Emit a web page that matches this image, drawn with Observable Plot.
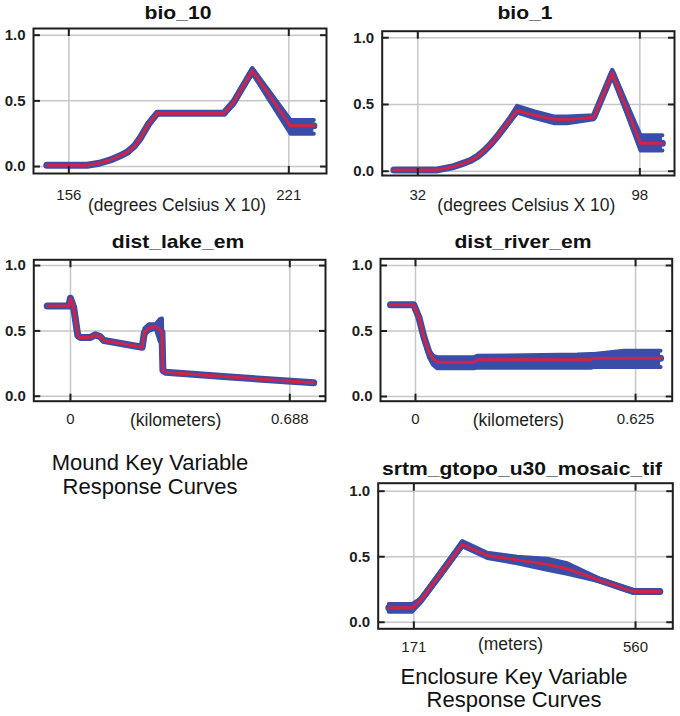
<!DOCTYPE html>
<html><head><meta charset="utf-8">
<script src="https://cdn.jsdelivr.net/npm/d3@7"></script>
<script src="https://cdn.jsdelivr.net/npm/@observablehq/plot@0.6"></script>
<style>
body{margin:0;background:#fff;}
#chart{position:relative;width:680px;height:716px;background:#fff;font-family:"Liberation Sans",Arial,sans-serif;color:#111;overflow:hidden}
.ttl{position:absolute;font-weight:bold;font-size:19px;white-space:nowrap;transform:translate(-50%,-50%) scaleX(1.11);line-height:1}
.cap{position:absolute;font-size:22px;text-align:center;transform:translateX(-50%);white-space:nowrap}
.panel{position:absolute}
</style></head><body><div id="chart"></div>
<script>
// ---- data ----
const titles = ["bio_10", "bio_1", "dist_lake_em", "dist_river_em", "srtm_gtopo_u30_mosaic_tif"];
const axisLabels = ["(degrees Celsius X 10)", "(degrees Celsius X 10)", "(kilometers)", "(kilometers)", "(meters)"];
const captionMound = ["Mound Key Variable", "Response Curves"];
const captionEnclosure = ["Enclosure Key Variable", "Response Curves"];
const yTicks = [0, 0.5, 1.0];

const bio10X    = [149.5, 161.4, 165.0, 168.3, 171.0, 173.3, 175.5, 177.2, 179.6, 182.1, 201.8, 204.7, 210.2, 221.5, 228.4];
const bio10Mean = [0.01, 0.01, 0.025, 0.05, 0.08, 0.11, 0.16, 0.22, 0.325, 0.405, 0.405, 0.49, 0.73, 0.31, 0.31];
const bio10Lo   = [0.01, 0.01, 0.025, 0.05, 0.075, 0.10, 0.15, 0.20, 0.31, 0.40, 0.40, 0.47, 0.71, 0.25, 0.25];
const bio10Hi   = [0.01, 0.01, 0.025, 0.05, 0.085, 0.12, 0.17, 0.24, 0.34, 0.41, 0.41, 0.50, 0.75, 0.355, 0.355];
const bio10Ticks = [156, 221];
const bio10TickLabels = ["156", "221"];

const bio1X    = [24.9, 37.8, 42.7, 45.0, 47.7, 49.7, 51.6, 53.6, 55.6, 58.6, 61.5, 66.5, 72.4, 76.4, 84.3, 89.8, 98.2, 104.7];
const bio1Mean = [0.01, 0.01, 0.035, 0.055, 0.08, 0.11, 0.15, 0.20, 0.26, 0.36, 0.455, 0.42, 0.39, 0.385, 0.405, 0.735, 0.21, 0.21];
const bio1Lo   = [0.01, 0.01, 0.035, 0.055, 0.075, 0.105, 0.145, 0.19, 0.25, 0.345, 0.44, 0.40, 0.36, 0.36, 0.39, 0.72, 0.155, 0.155];
const bio1Hi   = [0.01, 0.01, 0.035, 0.055, 0.085, 0.115, 0.155, 0.21, 0.27, 0.375, 0.49, 0.45, 0.41, 0.41, 0.42, 0.76, 0.27, 0.27];
const bio1Ticks = [32, 98];
const bio1TickLabels = ["32", "98"];

const lakeX    = [-0.073, -0.005, 0.0, 0.010, 0.023, 0.031, 0.063, 0.078, 0.094, 0.105, 0.225, 0.232, 0.246, 0.267, 0.280, 0.287, 0.290, 0.298, 0.512, 0.763];
const lakeMean = [0.69, 0.69, 0.75, 0.68, 0.464, 0.45, 0.45, 0.47, 0.455, 0.426, 0.375, 0.49, 0.523, 0.533, 0.51, 0.49, 0.197, 0.184, 0.145, 0.103];
const lakeLo   = [0.69, 0.69, 0.75, 0.68, 0.46, 0.45, 0.45, 0.47, 0.455, 0.426, 0.37, 0.47, 0.50, 0.52, 0.42, 0.40, 0.197, 0.184, 0.145, 0.103];
const lakeHi   = [0.69, 0.69, 0.75, 0.68, 0.47, 0.45, 0.45, 0.47, 0.455, 0.426, 0.38, 0.52, 0.55, 0.55, 0.59, 0.595, 0.197, 0.184, 0.145, 0.103];
const lakeTicks = [0, 0.688];
const lakeTickLabels = ["0", "0.688"];

const riverX    = [-0.071, -0.005, 0.0095, 0.024, 0.038, 0.050, 0.062, 0.166, 0.175, 0.459, 0.497, 0.507, 0.592, 0.696];
const riverMean = [0.70, 0.70, 0.605, 0.453, 0.338, 0.29, 0.262, 0.262, 0.28, 0.28, 0.28, 0.292, 0.292, 0.292];
const riverLo   = [0.70, 0.70, 0.60, 0.43, 0.30, 0.24, 0.215, 0.215, 0.22, 0.22, 0.22, 0.225, 0.225, 0.225];
const riverHi   = [0.70, 0.70, 0.61, 0.46, 0.35, 0.31, 0.30, 0.30, 0.31, 0.32, 0.325, 0.325, 0.35, 0.35];
const riverTicks = [0, 0.625];
const riverTickLabels = ["0", "0.625"];

const srtmX    = [127.1, 168.2, 182.8, 217.8, 255.9, 299.8, 352.4, 405, 440.2, 498.6, 557, 602.6];
const srtmMean = [0.11, 0.11, 0.166, 0.37, 0.593, 0.51, 0.476, 0.44, 0.408, 0.318, 0.234, 0.234];
const srtmLo   = [0.08, 0.08, 0.15, 0.35, 0.58, 0.49, 0.45, 0.40, 0.37, 0.31, 0.225, 0.225];
const srtmHi   = [0.14, 0.14, 0.18, 0.39, 0.62, 0.53, 0.50, 0.485, 0.45, 0.33, 0.245, 0.245];
const srtmTicks = [171, 560];
const srtmTickLabels = ["171", "560"];

// ---- styling / layout ----
const FONT = '"Liberation Sans", Arial, sans-serif';
const BLUE = "#3a4ea8";
const RED = "#cf2448";
const GRID = "#c6c6c6";
const INK = "#1e1e1e";

const panels = [
  {i:0, x:bio10X, mean:bio10Mean, lo:bio10Lo, hi:bio10Hi, xt:bio10Ticks, xl:bio10TickLabels,
   left:0, top:20, w:340, h:200, ml:33, mr:14, mt:8, mb:47, xd:[145.57, 232.14], yd:[-0.053, 1.051],
   tp:16, ldy:32, ldx:-3, tx:178, ty:12},
  {i:1, x:bio1X, mean:bio1Mean, lo:bio1Lo, hi:bio1Hi, xt:bio1Ticks, xl:bio1TickLabels,
   left:340, top:20, w:340, h:200, ml:41.7, mr:6, mt:10.7, mb:45, xd:[21.42, 108.3], yd:[-0.032, 1.049],
   tp:14, ldy:30, ldx:-2, tx:525, ty:12},
  {i:2, x:lakeX, mean:lakeMean, lo:lakeLo, hi:lakeHi, xt:lakeTicks, xl:lakeTickLabels,
   left:0, top:250, w:340, h:190, ml:33.3, mr:15, mt:9.3, mb:39.3, xd:[-0.115, 0.800], yd:[-0.038, 1.044],
   tp:12, ldy:19, ldx:-4, tx:178, ty:241},
  {i:3, x:riverX, mean:riverMean, lo:riverLo, hi:riverHi, xt:riverTicks, xl:riverTickLabels,
   left:340, top:250, w:340, h:190, ml:40, mr:8.3, mt:8.3, mb:39.3, xd:[-0.0994, 0.729], yd:[-0.036, 1.051],
   tp:12, ldy:19, ldx:-8, tx:523, ty:241},
  {i:4, x:srtmX, mean:srtmMean, lo:srtmLo, hi:srtmHi, xt:srtmTicks, xl:srtmTickLabels,
   left:340, top:475, w:340, h:185, ml:37.7, mr:7.7, mt:7.7, mb:31.7, xd:[108.5, 625.4], yd:[-0.050, 1.061],
   tp:13, ldy:15.5, ldx:-15, tx:521.7, ty:468}
];

const chart = document.getElementById("chart");

for (const c of panels) {
  const data = c.x.map((x, k) => ({x, mean: c.mean[k], lo: c.lo[k], hi: c.hi[k]}));
  const labelOf = new Map(c.xt.map((t, k) => [t, c.xl[k]]));
  const svg = Plot.plot({
    width: c.w, height: c.h,
    marginLeft: c.ml, marginRight: c.mr, marginTop: c.mt, marginBottom: c.mb,
    x: {domain: c.xd, label: null},
    y: {domain: c.yd, label: null},
    style: {fontFamily: FONT, background: "transparent", overflow: "visible", color: INK},
    marks: [
      Plot.gridX(c.xt, {stroke: GRID, strokeOpacity: 1, strokeWidth: 1.5}),
      Plot.gridY(yTicks, {stroke: GRID, strokeOpacity: 1, strokeWidth: 1.5}),
      Plot.areaY(data, {x: "x", y1: "lo", y2: "hi", fill: BLUE}),
      Plot.line(data, {x: "x", y: "lo", stroke: BLUE, strokeWidth: 4}),
      Plot.line(data, {x: "x", y: "hi", stroke: BLUE, strokeWidth: 4}),
      Plot.line(data, {x: "x", y: "mean", stroke: BLUE, strokeWidth: 7}),
      Plot.line(data, {x: "x", y: "mean", stroke: RED, strokeWidth: 3}),
      Plot.frame({stroke: INK, strokeWidth: 2}),
      Plot.axisY(yTicks, {anchor: "left", tickSize: -7, fill: "none", label: null, stroke: INK, strokeWidth: 2}),
      Plot.axisY(yTicks, {anchor: "right", tickSize: -7, fill: "none", label: null, stroke: INK, strokeWidth: 2}),
      Plot.axisX(c.xt, {anchor: "bottom", tickSize: -7, fill: "none", label: null, stroke: INK, strokeWidth: 2}),
      Plot.axisX(c.xt, {anchor: "top", tickSize: -7, fill: "none", label: null, stroke: INK, strokeWidth: 2}),
      Plot.axisY(yTicks, {anchor: "left", tickSize: 0, tickPadding: 8, tickFormat: ".1f", fontSize: 15, fontWeight: "bold", label: null, fill: INK}),
      Plot.axisX(c.xt, {anchor: "bottom", tickSize: 0, tickPadding: c.tp, tickFormat: d => labelOf.get(d), fontSize: 15, label: null, fill: INK}),
      Plot.text([axisLabels[c.i]], {text: d => d, frameAnchor: "bottom", dy: c.ldy, dx: c.ldx, fontSize: 17.5, lineAnchor: "middle", fill: INK})
    ]
  });
  svg.classList.add("panel");
  svg.style.left = c.left + "px";
  svg.style.top = c.top + "px";
  chart.appendChild(svg);

  const t = document.createElement("div");
  t.className = "ttl";
  t.textContent = titles[c.i];
  t.style.left = c.tx + "px";
  t.style.top = c.ty + "px";
  chart.appendChild(t);
}

function caption(lines, cx, top, lh) {
  const d = document.createElement("div");
  d.className = "cap";
  d.style.left = cx + "px";
  d.style.top = top + "px";
  d.style.lineHeight = lh + "px";
  lines.forEach((s, k) => {
    if (k) d.appendChild(document.createElement("br"));
    d.appendChild(document.createTextNode(s));
  });
  chart.appendChild(d);
}
caption(captionMound, 150, 451, 24);
caption(captionEnclosure, 514, 664.5, 23);
</script>
</body></html>
